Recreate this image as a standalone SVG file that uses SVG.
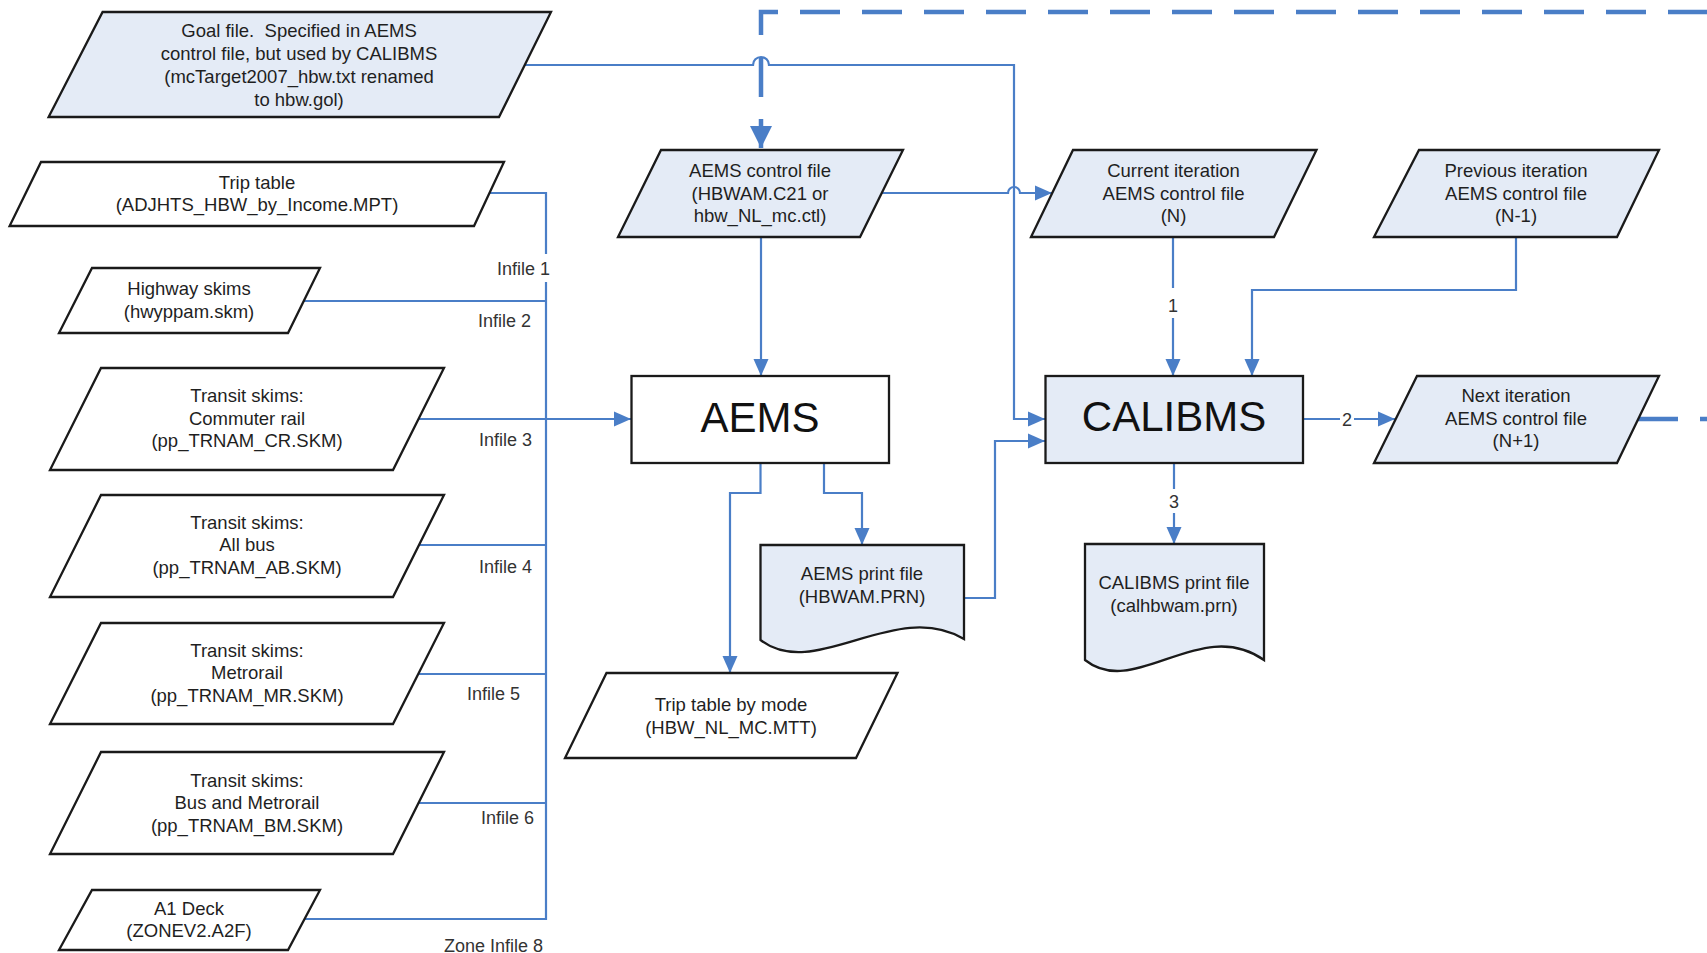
<svg xmlns="http://www.w3.org/2000/svg" width="1707" height="953" viewBox="0 0 1707 953">
<style>
  .box { stroke: #1a1a1a; stroke-width: 2.3; stroke-linejoin: miter; }
  .w { fill: #ffffff; }
  .b { fill: #E4EBF6; }
  text { font-family: "Liberation Sans", Arial, sans-serif; fill: #1f1f1f; }
  .t { font-size: 18.5px; text-anchor: middle; }
  .big { font-size: 42px; text-anchor: middle; fill: #111; }
  .lbl { font-size: 18px; text-anchor: end; fill: #333; }
  .num { font-size: 18px; text-anchor: middle; fill: #333; }
  .c { fill: none; stroke: #4A7EC7; stroke-width: 2.2; }
  .dash { fill: none; stroke: #4A7EC7; stroke-width: 4.5; stroke-dasharray: 40 22; }
  .bg { fill: #ffffff; stroke: none; }
</style>
<defs>
  <marker id="arr" markerUnits="userSpaceOnUse" markerWidth="18" markerHeight="16" refX="17" refY="8" orient="auto">
    <path d="M0,0.5 L17,8 L0,15.5 Z" fill="#4A7EC7"/>
  </marker>
  <marker id="arrBig" markerUnits="userSpaceOnUse" markerWidth="23" markerHeight="23" refX="22" refY="11" orient="auto">
    <path d="M0,0 L22,11 L0,22 Z" fill="#4A7EC7"/>
  </marker>
</defs>

<g id="connectors">
  <path class="dash" d="M 1707 12 H 761 V 148" stroke-dashoffset="1" marker-end="url(#arrBig)"/>
  <path class="dash" d="M 1638 419 H 1707" stroke-dasharray="38 22"/>
  <path class="c" d="M 524 65 H 753 A 8 8 0 0 1 769 65 H 1014 V 419 H 1045" marker-end="url(#arr)"/>
  <path class="c" d="M 882 193 H 1008 A 6 6 0 0 1 1020 193 H 1052" marker-end="url(#arr)"/>
  <path class="c" d="M 761 237 V 376" marker-end="url(#arr)"/>
  <path class="c" d="M 1173 237 V 376" marker-end="url(#arr)"/>
  <path class="c" d="M 1516 237 V 290 H 1252 V 376" marker-end="url(#arr)"/>
  <path class="c" d="M 1303 419 H 1395" marker-end="url(#arr)"/>
  <path class="c" d="M 1174 463 V 544" marker-end="url(#arr)"/>
  <path class="c" d="M 824 463 V 493 H 862 V 545" marker-end="url(#arr)"/>
  <path class="c" d="M 760.5 463 V 493 H 730 V 673" marker-end="url(#arr)"/>
  <path class="c" d="M 964 598 H 995 V 441 H 1045" marker-end="url(#arr)"/>
  <path class="c" d="M 490 193 H 546 V 919 H 303"/>
  <path class="c" d="M 303 301 H 546"/>
  <path class="c" d="M 418 419 H 631" marker-end="url(#arr)"/>
  <path class="c" d="M 418 545 H 546"/>
  <path class="c" d="M 418 674 H 546"/>
  <path class="c" d="M 418 803 H 546"/>
</g>

<g id="labels">
  <rect class="bg" x="494" y="254" width="58" height="28"/>
  <text class="lbl" x="550" y="274.5">Infile 1</text>
  <text class="lbl" x="531" y="326.5">Infile 2</text>
  <text class="lbl" x="532" y="445.5">Infile 3</text>
  <text class="lbl" x="532" y="572.5">Infile 4</text>
  <text class="lbl" x="520" y="699.5">Infile 5</text>
  <text class="lbl" x="534" y="823.5">Infile 6</text>
  <text class="lbl" x="543" y="952">Zone Infile 8</text>
  <rect class="bg" x="1164" y="288" width="18" height="30"/>
  <text class="num" x="1173" y="311.5">1</text>
  <rect class="bg" x="1340" y="408" width="14" height="22"/>
  <text class="num" x="1347" y="425.5">2</text>
  <rect class="bg" x="1165" y="489" width="18" height="24"/>
  <text class="num" x="1174" y="507.5">3</text>
</g>

<g id="goal-file">
  <polygon class="box b" points="102.6,12 551,12 499,117 48.6,117"/>
  <text class="t" x="299" y="37">Goal file.&#160; Specified in AEMS</text>
  <text class="t" x="299" y="60">control file, but used by CALIBMS</text>
  <text class="t" x="299" y="83">(mcTarget2007_hbw.txt renamed</text>
  <text class="t" x="299" y="106">to hbw.gol)</text>
</g>

<g id="trip-table">
  <polygon class="box w" points="41,162 504,162 474,226 9.6,226"/>
  <text class="t" x="257" y="188.5">Trip table</text>
  <text class="t" x="257" y="210.5">(ADJHTS_HBW_by_Income.MPT)</text>
</g>

<g id="highway-skims">
  <polygon class="box w" points="92,268 320,268 288,333 59,333"/>
  <text class="t" x="189" y="294.5">Highway skims</text>
  <text class="t" x="189" y="318">(hwyppam.skm)</text>
</g>

<g id="transit-cr">
  <polygon class="box w" points="101,368 444,368 393,470 50,470"/>
  <text class="t" x="247" y="401.5">Transit skims:</text>
  <text class="t" x="247" y="424.5">Commuter rail</text>
  <text class="t" x="247" y="446.5">(pp_TRNAM_CR.SKM)</text>
</g>

<g id="transit-ab">
  <polygon class="box w" points="101,495 444,495 393,597 50,597"/>
  <text class="t" x="247" y="528.5">Transit skims:</text>
  <text class="t" x="247" y="550.5">All bus</text>
  <text class="t" x="247" y="573.5">(pp_TRNAM_AB.SKM)</text>
</g>

<g id="transit-mr">
  <polygon class="box w" points="101,623 444,623 393,724 50,724"/>
  <text class="t" x="247" y="656.5">Transit skims:</text>
  <text class="t" x="247" y="678.5">Metrorail</text>
  <text class="t" x="247" y="701.5">(pp_TRNAM_MR.SKM)</text>
</g>

<g id="transit-bm">
  <polygon class="box w" points="101,752 444,752 393,854 50,854"/>
  <text class="t" x="247" y="786.5">Transit skims:</text>
  <text class="t" x="247" y="808.5">Bus and Metrorail</text>
  <text class="t" x="247" y="831.5">(pp_TRNAM_BM.SKM)</text>
</g>

<g id="a1-deck">
  <polygon class="box w" points="92,890 320,890 288,950 59,950"/>
  <text class="t" x="189" y="914.5">A1 Deck</text>
  <text class="t" x="189" y="936.5">(ZONEV2.A2F)</text>
</g>

<g id="aems-control">
  <polygon class="box b" points="661,150 903,150 860,237 618,237"/>
  <text class="t" x="760" y="176.5">AEMS control file</text>
  <text class="t" x="760" y="199.5">(HBWAM.C21 or</text>
  <text class="t" x="760" y="221.5">hbw_NL_mc.ctl)</text>
</g>

<g id="current-iteration">
  <polygon class="box b" points="1073,150 1316.5,150 1274,237 1031,237"/>
  <text class="t" x="1173.5" y="176.5">Current iteration</text>
  <text class="t" x="1173.5" y="199.5">AEMS control file</text>
  <text class="t" x="1173.5" y="221.5">(N)</text>
</g>

<g id="previous-iteration">
  <polygon class="box b" points="1419,150 1659,150 1617,237 1374,237"/>
  <text class="t" x="1516" y="176.5">Previous iteration</text>
  <text class="t" x="1516" y="199.5">AEMS control file</text>
  <text class="t" x="1516" y="221.5">(N-1)</text>
</g>

<g id="aems">
  <rect class="box w" x="631.5" y="376" width="257.5" height="87"/>
  <text class="big" x="760" y="431.5">AEMS</text>
</g>

<g id="calibms">
  <rect class="box b" x="1045.5" y="376" width="257.5" height="87"/>
  <text class="big" x="1174" y="431">CALIBMS</text>
</g>

<g id="next-iteration">
  <polygon class="box b" points="1417,376 1659,376 1617,463 1374,463"/>
  <text class="t" x="1516" y="401.5">Next iteration</text>
  <text class="t" x="1516" y="424.5">AEMS control file</text>
  <text class="t" x="1516" y="446.5">(N+1)</text>
</g>

<g id="aems-print">
  <path class="box b" d="M 760.5 545 H 964 V 639 C 895 598 815 682 760.5 640 Z"/>
  <text class="t" x="862" y="579.5">AEMS print file</text>
  <text class="t" x="862" y="602.5">(HBWAM.PRN)</text>
</g>

<g id="calibms-print">
  <path class="box b" d="M 1085 544 H 1264 V 660 C 1200 615 1135 700 1085 660 Z"/>
  <text class="t" x="1174" y="588.5">CALIBMS print file</text>
  <text class="t" x="1174" y="611.5">(calhbwam.prn)</text>
</g>

<g id="trip-table-by-mode">
  <polygon class="box w" points="606.5,673 897.5,673 856,758 565,758"/>
  <text class="t" x="731" y="710.5">Trip table by mode</text>
  <text class="t" x="731" y="733.5">(HBW_NL_MC.MTT)</text>
</g>
</svg>
